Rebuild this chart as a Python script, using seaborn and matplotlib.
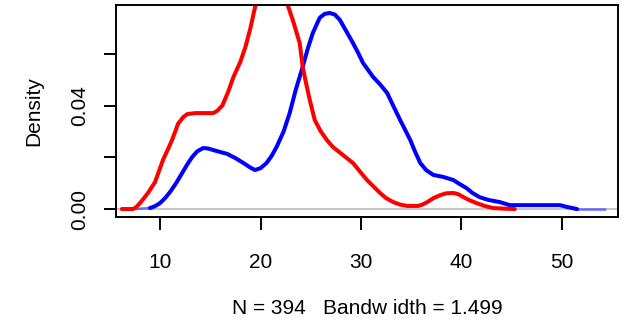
import matplotlib
matplotlib.use("Agg")
import matplotlib.pyplot as plt
import seaborn as sns

# density curves (x, density)
red_x = [6.2, 7.3, 7.6, 8.0, 8.4, 8.8, 9.5, 10.3, 10.8, 11.2, 11.8, 12.3, 12.7, 13.5, 14.5,
         15.3, 15.7, 16.2, 16.8, 17.3, 18.0, 18.5, 19.0, 19.45, 20.2, 21.0, 21.8, 22.3,
         22.7, 23.3, 23.9, 24.2, 24.6, 24.9, 25.4, 26.0, 26.6, 27.2, 28.2, 29.2, 30.0,
         30.6, 31.3, 31.9, 32.5, 33.2, 33.9, 34.6, 35.7, 36.1, 36.6, 37.2, 37.9, 38.5,
         39.2, 39.7, 40.2, 40.8, 41.5, 42.3, 43.1, 44.0, 45.3]
red_y = [0.0, 0.0, 0.0006, 0.0023, 0.0042, 0.0062, 0.0104, 0.019, 0.0232, 0.0267, 0.033,
         0.0355, 0.0367, 0.0371, 0.0371, 0.0371, 0.0380, 0.040, 0.0455, 0.051, 0.057,
         0.0627, 0.070, 0.078, 0.090, 0.096, 0.092, 0.086, 0.079, 0.072, 0.0642, 0.0549,
         0.0475, 0.0422, 0.0344, 0.0300, 0.0267, 0.024, 0.0209, 0.0178, 0.0140, 0.0112,
         0.0085, 0.0062, 0.0042, 0.0027, 0.0017, 0.0012, 0.0012, 0.0017, 0.0027, 0.0042,
         0.0054, 0.0061, 0.0062, 0.0057, 0.0046, 0.0034, 0.0023, 0.0012, 0.0004, 0.0002,
         0.0]

blue_x = [9.0, 9.5, 10.0, 10.5, 11.0, 11.6, 12.2, 12.7, 13.2, 13.7, 14.3, 14.8, 15.3,
          16.7, 17.5, 18.3, 19.0, 19.45, 20.0, 20.6, 21.1, 21.6, 22.3, 22.9, 23.5, 24.2,
          24.7, 25.2, 25.6, 25.9, 26.4, 26.9, 27.4, 27.9, 28.5, 29.2, 29.7, 30.2, 31.2,
          31.9, 32.6, 33.2, 33.9, 34.9, 35.4, 35.9, 36.5, 37.2, 38.2, 39.2, 39.8, 40.5,
          41.1, 41.8, 42.7, 43.8, 44.8, 49.8, 50.5, 51.5]
blue_y = [0.0004, 0.0011, 0.0023, 0.0042, 0.0066, 0.0100, 0.0139, 0.0172, 0.0201, 0.0223,
          0.0236, 0.0234, 0.0228, 0.0213, 0.0197, 0.0178, 0.0160, 0.0151, 0.0158, 0.0178,
          0.0205, 0.024, 0.0300, 0.0371, 0.0460, 0.055, 0.0620, 0.068, 0.0715, 0.074,
          0.0755, 0.0758, 0.0752, 0.0731, 0.0690, 0.0642, 0.0605, 0.0565, 0.0511, 0.0482,
          0.0449, 0.0400, 0.0344, 0.0267, 0.0220, 0.0178, 0.0150, 0.0132, 0.0124, 0.0112,
          0.0097, 0.0081, 0.0062, 0.0046, 0.0035, 0.0027, 0.0015, 0.0015, 0.0008, 0.0]

# faint tails of the blue curve
tail_left_x = [7.5, 9.2]
tail_left_y = [0.0, 0.0004]
tail_right_x = [51.3, 54.3]
tail_right_y = [0.0, 0.0]

x_ticks = [10, 20, 30, 40, 50]
y_ticks = [0.00, 0.02, 0.04, 0.06]
y_tick_labels = ["0.00", "", "0.04", ""]

sns.set_theme(style="white")
plt.rcParams["font.family"] = ["Liberation Sans", "DejaVu Sans"]
plt.rcParams["text.color"] = "black"

fig = plt.figure(figsize=(6.22, 3.23), dpi=100)
ax = fig.add_axes([0.1865, 0.328, 0.807, 0.6565])

ax.axhline(0, color="#bebebe", lw=1.2, zorder=1)

sns.lineplot(x=tail_left_x, y=tail_left_y, color="#6868ff", lw=1.8, ax=ax, sort=False, estimator=None)
sns.lineplot(x=tail_right_x, y=tail_right_y, color="#6868ff", lw=1.8, ax=ax, sort=False, estimator=None)
sns.lineplot(x=blue_x, y=blue_y, color="#0000ff", lw=2.9, ax=ax, sort=False, estimator=None)
sns.lineplot(x=red_x, y=red_y, color="#ff0000", lw=2.9, ax=ax, sort=False, estimator=None)

ax.set_xlim(5.62, 55.57)
ax.set_ylim(-0.0031, 0.0789)
ax.set_xticks(x_ticks)
ax.set_xticklabels([str(t) for t in x_ticks])
ax.set_yticks(y_ticks)
ax.set_yticklabels(y_tick_labels, rotation=90, va="center")

for s in ax.spines.values():
    s.set_visible(True)
    s.set_color("black")
    s.set_linewidth(1.4)

ax.tick_params(axis="both", direction="out", length=9, width=1.4, colors="black",
               labelcolor="black", labelsize=15, left=True, bottom=True)
ax.tick_params(axis="x", pad=17)
ax.tick_params(axis="y", pad=10)

ax.set_xlabel("N = 394   Bandw idth = 1.499", fontsize=15, labelpad=19, color="black")
ax.set_ylabel("Density", fontsize=15, labelpad=20, color="black")

fig.savefig("out.png", dpi=100)
